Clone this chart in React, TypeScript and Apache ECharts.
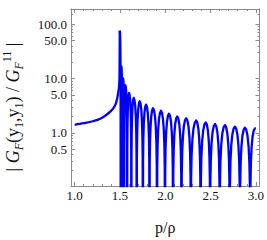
import React, { useEffect, useRef } from "react";
import * as echarts from "echarts";

// Tick labels / positions
const X_TICKS = [1.0, 1.5, 2.0, 2.5, 3.0];
const X_MINOR = [1.1, 1.2, 1.3, 1.4, 1.6, 1.7, 1.8, 1.9, 2.1, 2.2, 2.3, 2.4, 2.6, 2.7, 2.8, 2.9];
const Y_TICKS = [0.5, 1, 5, 10, 50, 100];
const Y_MINOR = [0.2, 0.3, 0.4, 0.6, 0.7, 0.8, 0.9, 2, 3, 4, 6, 7, 8, 9, 20, 30, 40, 60, 70, 80, 90, 150];

// Smooth rise before threshold p/rho = 1.5
const RISE_X = [1.0, 1.1, 1.2, 1.3, 1.4, 1.45, 1.47, 1.48, 1.49, 1.495, 1.4985];
const RISE_Y = [1.4, 1.5, 1.63, 1.88, 2.5, 3.3, 4.3, 5.3, 7.0, 10.5, 76];

// Oscillating part: zeros (troughs), arch maxima and their values
const TROUGH_X = [1.508, 1.525, 1.547, 1.58, 1.626, 1.685, 1.753, 1.826, 1.909, 1.997, 2.086, 2.179, 2.282, 2.39, 2.495, 2.601, 2.711, 2.824, 2.937];
const PEAK_X = [1.516, 1.535, 1.56, 1.601, 1.652, 1.718, 1.788, 1.865, 1.953, 2.041, 2.132, 2.231, 2.341, 2.447, 2.549, 2.659, 2.769, 2.879, 2.99];
const PEAK_Y = [16.7, 10, 7.5, 5.4, 4.4, 3.8, 3.3, 2.83, 2.54, 2.25, 2.0, 1.85, 1.68, 1.55, 1.45, 1.38, 1.3, 1.24, 1.2];
const END_POINT = [3.0, 1.19];

// Arch profile (fraction of side width from zero, fraction of peak)
const SHAPE_F = [0, 0.06, 0.15, 0.3, 0.5, 0.75, 1];
const SHAPE_H = [0.001, 0.09, 0.23, 0.45, 0.71, 0.92, 1];

const lg = (v: number) => Math.log10(v);

function buildOsc(): number[][] {
  const pts: number[][] = [];
  const side = (x0: number, x1: number, peak: number, up: boolean) => {
    const n = SHAPE_F.length;
    for (let k = 0; k < n; k++) {
      const j = up ? k : n - 1 - k;
      const f = SHAPE_F[j];
      const x = x0 + (x1 - x0) * f;
      pts.push([x, lg(peak * SHAPE_H[j])]);
    }
  };
  const spikeX = RISE_X[RISE_X.length - 1];
  const spikeY = RISE_Y[RISE_Y.length - 1];
  side(TROUGH_X[0], spikeX, spikeY, false);
  for (let i = 0; i < PEAK_X.length; i++) {
    side(TROUGH_X[i], PEAK_X[i], PEAK_Y[i], true);
    if (i + 1 < TROUGH_X.length) {
      side(TROUGH_X[i + 1], PEAK_X[i], PEAK_Y[i], false);
    }
  }
  pts.push([END_POINT[0], lg(END_POINT[1])]);
  return pts;
}

const X_MIN = 0.96;
const X_MAX = 3.04;
const Y_MIN = -0.98;
const Y_MAX = 2.28;
const FRAME = "#8a8a8a";
const FONT = "'Liberation Serif', 'DejaVu Serif', serif";

export default function App() {
  const ref = useRef<HTMLDivElement>(null);
  useEffect(() => {
    if (!ref.current) return;
    const chart = echarts.init(ref.current, undefined, { renderer: "svg" });
    const rise = RISE_X.map((x, i) => [x, lg(RISE_Y[i])]);
    const osc = buildOsc();

    const xBase = (position: string, ticks: number[], len: number, labels: boolean, extra: any = {}) => ({
      type: "value",
      position,
      min: X_MIN,
      max: X_MAX,
      axisLine: { show: true, onZero: false, lineStyle: { color: FRAME, width: 1 } },
      axisTick: { show: true, inside: true, length: len, customValues: ticks, lineStyle: { color: FRAME } },
      axisLabel: labels
        ? { show: true, customValues: ticks, formatter: (v: number) => v.toFixed(1), color: "#111", fontFamily: FONT, fontSize: 13, margin: 3 }
        : { show: false },
      splitLine: { show: false },
      ...extra,
    });
    const yBase = (position: string, ticks: number[], len: number, labels: boolean) => ({
      type: "value",
      position,
      min: Y_MIN,
      max: Y_MAX,
      axisLine: { show: true, onZero: false, lineStyle: { color: FRAME, width: 1 } },
      axisTick: { show: true, inside: true, length: len, customValues: ticks.map(lg), lineStyle: { color: FRAME } },
      axisLabel: labels
        ? { show: true, customValues: ticks.map(lg), formatter: (v: number) => Math.pow(10, v).toFixed(1), color: "#111", fontFamily: FONT, fontSize: 13, margin: 4 }
        : { show: false },
      splitLine: { show: false },
    });

    chart.setOption({
      animation: false,
      grid: { left: 71, top: 9, right: 7, bottom: 43, containLabel: false },
      xAxis: [
        xBase("bottom", X_TICKS, 4, true, {
          name: "p/ρ",
          nameLocation: "middle",
          nameGap: 33,
          nameTextStyle: { fontFamily: FONT, fontSize: 16, color: "#111" },
        }),
        xBase("bottom", X_MINOR, 2, false),
        xBase("top", X_TICKS, 4, false),
        xBase("top", X_MINOR, 2, false),
      ],
      yAxis: [
        yBase("left", Y_TICKS, 4, true),
        yBase("left", Y_MINOR, 2, false),
        yBase("right", Y_TICKS, 4, false),
        yBase("right", Y_MINOR, 2, false),
      ],
      graphic: [
        {
          type: "text",
          x: 13,
          y: 107,
          rotation: Math.PI / 2,
          style: {
            text: "{n|| }{i|G}{s|F}{n|(y}{d|1}{n|,y}{d|1}{n|) / }{i|G}{s|F}{p|11}{n| |}",
            align: "center",
            verticalAlign: "middle",
            fill: "#111",
            rich: {
              n: { fontFamily: FONT, fontSize: 18, lineHeight: 24, verticalAlign: "middle", fill: "#111" },
              i: { fontFamily: FONT, fontSize: 18, fontStyle: "italic", lineHeight: 24, verticalAlign: "middle", fill: "#111" },
              s: { fontFamily: FONT, fontSize: 12, fontStyle: "italic", lineHeight: 13, verticalAlign: "bottom", fill: "#111" },
              d: { fontFamily: FONT, fontSize: 12, lineHeight: 13, verticalAlign: "bottom", fill: "#111" },
              p: { fontFamily: FONT, fontSize: 12, lineHeight: 13, verticalAlign: "top", fill: "#111" },
            },
          },
        },
      ],
      series: [
        {
          type: "line",
          data: rise,
          xAxisIndex: 0,
          yAxisIndex: 0,
          showSymbol: false,
          smooth: 0.3,
          clip: true,
          lineStyle: { color: "#0000ff", width: 2.3 },
        },
        {
          type: "line",
          data: osc,
          xAxisIndex: 0,
          yAxisIndex: 0,
          showSymbol: false,
          smooth: false,
          clip: true,
          lineStyle: { color: "#0000ff", width: 2.3, join: "round" },
        },
      ],
    });
    return () => chart.dispose();
  }, []);
  return <div ref={ref} style={{ position: "absolute", left: 0, top: 0, width: 267, height: 240 }} />;
}
